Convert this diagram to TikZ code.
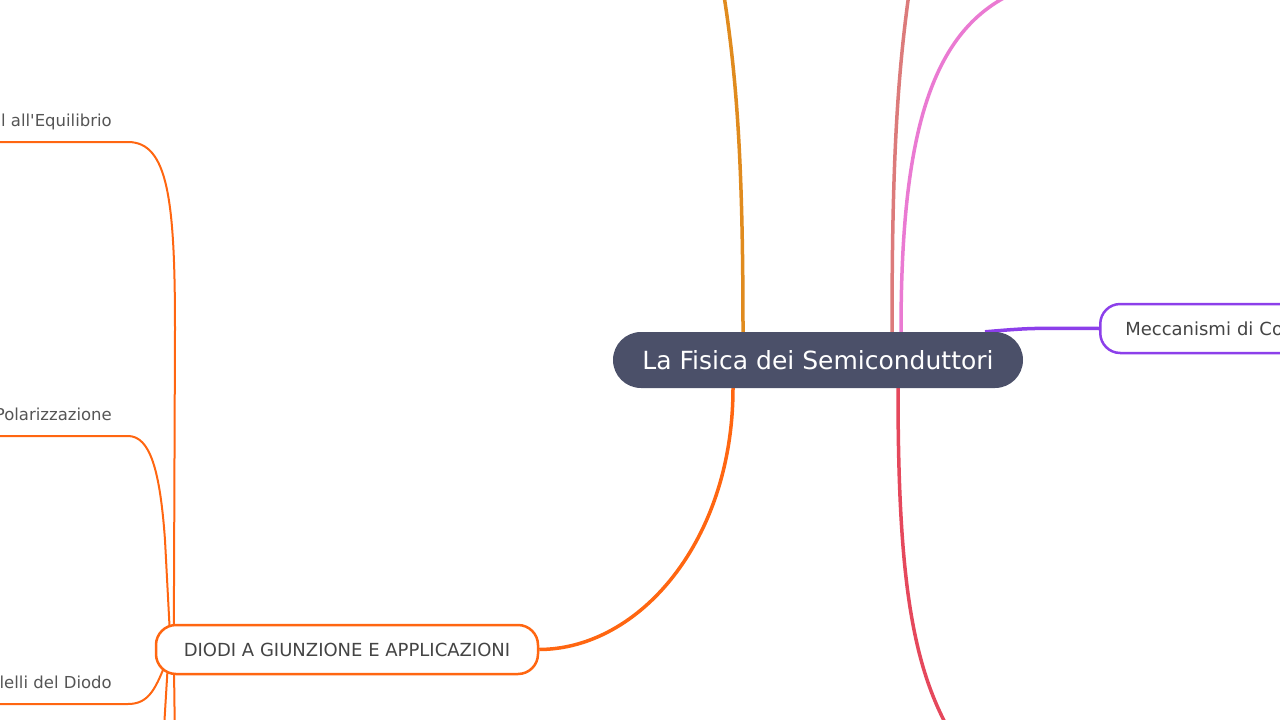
\documentclass[tikz,border=0pt]{standalone}
\usepackage{fontspec}
\setmainfont{DejaVu Sans}
\usetikzlibrary{positioning,backgrounds}
\definecolor{rootfill}{HTML}{4B5069}
\definecolor{orangebr}{HTML}{FF6611}
\definecolor{goldbr}{HTML}{E08B1E}
\definecolor{rosebr}{HTML}{DC7B7B}
\definecolor{pinkbr}{HTML}{EA7AD2}
\definecolor{purplebr}{HTML}{8C3FEA}
\definecolor{redbr}{HTML}{E5485C}
\definecolor{topictext}{HTML}{444444}
\definecolor{leaftext}{HTML}{555555}

\begin{document}
\begin{tikzpicture}[x=1pt,y=-1pt,
    root/.style={fill=rootfill,text=white,rounded corners=28pt,minimum width=410pt,
      minimum height=56pt,inner sep=0pt,font=\fontsize{25}{29}\selectfont},
    topic/.style={draw,fill=white,line width=2.5pt,rounded corners=20pt,minimum height=49pt,
      inner sep=0pt,text=topictext,font=\fontsize{18}{21}\selectfont},
    leaf/.style={anchor=base east,inner sep=0pt,text=leaftext,font=\fontsize{16.5}{19}\selectfont},
    branch/.style={line width=3.5pt},
    twig/.style={line width=2pt,orangebr}]
  \useasboundingbox (0,0) rectangle (1280,720);
  \clip (0,0) rectangle (1280,720);

  \node[root] (root) at (818,360) {La Fisica dei Semiconduttori};
  \node[topic,draw=orangebr,minimum width=382pt] (diodi) at (347,649.5) {DIODI A GIUNZIONE E APPLICAZIONI};
  \node[topic,draw=purplebr,anchor=west,text width=260pt,align=left,inner xsep=25pt] (mecc) at (1099,328.5) {Meccanismi di Co};

  \node[leaf] (equil) at (112,126) {l all\textquotesingle Equilibrio};
  \node[leaf] (polar) at (112,420) {Polarizzazione};
  \node[leaf] (model) at (112,688) {lelli del Diodo};

  % free ends outside the frame
  \coordinate (goldend) at (718,-40);
  \coordinate (roseend) at (914,-40);
  \coordinate (pinkend) at (1035,-15);
  \coordinate (redend) at (972,765);
  \coordinate (equilend) at (-5,142);
  \coordinate (polarend) at (-5,436);
  \coordinate (modelend) at (-5,704);
  \coordinate (downa) at (175,745);
  \coordinate (downb) at (163,745);

  \begin{scope}[on background layer]
    \draw[branch,goldbr] ([xshift=-75pt]root.north) .. controls (743,150) and (736,60) .. (goldend);
    \draw[branch,rosebr] ([xshift=74pt]root.north) .. controls (892,150) and (898,60) .. (roseend);
    \draw[branch,pinkbr] ([xshift=83pt]root.north) .. controls (901,120) and (935,15) .. (pinkend);
    \draw[branch,purplebr] ([xshift=167pt]root.north) .. controls (1030,328) .. (mecc.west);
    \draw[branch,redbr] ([xshift=80pt]root.south) .. controls (898,600) and (915,690) .. (redend);
    \draw[branch,orangebr] ([xshift=-85pt]root.south) .. controls (733,540) and (640,649) .. (diodi.east);

    \draw[twig] ([xshift=19pt]diodi.west) -- (175,330) .. controls (175,200) and (168,142) .. (128,142) -- (equilend);
    \draw[twig] ([xshift=16pt]diodi.west) -- (165,540) .. controls (160,470) and (150,436) .. (128,436) -- (polarend);
    \draw[twig] ([xshift=14pt]diodi.west) -- (165,665) .. controls (155,690) and (148,704) .. (128,704) -- (modelend);
    \draw[twig] ([xshift=19pt]diodi.west) -- (downa);
    \draw[twig] ([xshift=14pt]diodi.west) -- (downb);
  \end{scope}
\end{tikzpicture}
\end{document}
